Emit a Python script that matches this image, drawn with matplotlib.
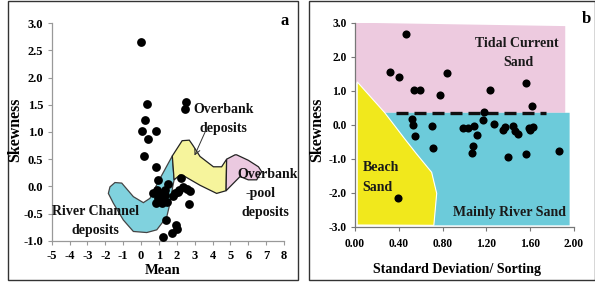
import matplotlib
matplotlib.use("Agg")
import matplotlib.pyplot as plt
from matplotlib.patches import Polygon, Rectangle

plt.rcParams['font.family'] = ['Liberation Serif', 'DejaVu Serif']
plt.rcParams['font.weight'] = 'bold'

# ---- Panel a data: Mean vs Skewness ----
mean_a = [0.00, 0.32, 0.22, 0.04, 0.86, 0.41, 0.18, 0.84, 2.50, 2.46, 0.97, 1.53, 2.24,
          0.69, 0.91, 1.16, 1.34, 0.97, 0.84, 1.16, 1.44, 1.34, 1.05, 1.25,
          1.90, 2.14, 2.36, 2.59, 2.74, 1.81, 2.68, 2.05,
          1.40, 1.96, 2.00, 1.71, 1.21]
skew_a = [2.66, 1.51, 1.22, 1.02, 1.02, 0.87, 0.55, 0.35, 1.56, 1.42, 0.12, 0.05, 0.16,
          -0.13, -0.07, -0.12, -0.16, -0.22, -0.30, -0.31, -0.28, -0.07, -0.15, -0.20,
          -0.13, -0.07, -0.02, -0.05, -0.08, -0.17, -0.32, -0.10,
          -0.62, -0.71, -0.79, -0.85, -0.93]

# Field outlines (panel a)
river_x = [-1.74, -1.46, -1.08, -0.43, 0.13, 0.50, 0.97, 1.75, 1.85, 1.77, 1.62, 1.44, 0.88, 0.32, -0.43, -0.99, -1.55, -1.83]
river_y = [-0.01, 0.07, 0.06, -0.19, -0.30, -0.22, 0.09, 0.56, 0.12, -0.01, -0.31, -0.56, -0.80, -0.85, -0.83, -0.62, -0.31, -0.13]
overbank_x = [1.75, 2.30, 2.70, 2.89, 3.30, 4.05, 4.51, 4.79, 4.76, 4.23, 3.30, 2.46, 2.18, 1.85]
overbank_y = [0.56, 0.84, 0.85, 0.76, 0.55, 0.36, 0.36, 0.50, -0.08, -0.13, 0.02, 0.18, 0.21, 0.12]
pool_x = [4.79, 5.26, 5.35, 6.00, 6.57, 6.75, 6.47, 6.00, 5.54, 4.76]
pool_y = [0.50, 0.58, 0.58, 0.48, 0.36, 0.27, 0.12, 0.12, 0.18, -0.08]

xticks_a = [-5, -4, -3, -2, -1, 0, 1, 2, 3, 4, 5, 6, 7, 8]
yticks_a = [-1.0, -0.5, 0.0, 0.5, 1.0, 1.5, 2.0, 2.5, 3.0]

# ---- Panel b data: Sorting vs Skewness ----
sort_b = [0.466, 0.32, 0.40, 0.54, 0.59, 0.78, 0.84, 1.23, 1.56, 1.62, 1.18, 1.17, 1.27,
          0.52, 0.53, 0.55, 0.70, 0.71, 0.99, 1.03, 1.09, 1.11, 1.08, 1.07,
          1.35, 1.37, 1.44, 1.46, 1.49, 1.40, 1.56, 1.59, 1.63, 1.60, 1.86, 0.39]
skew_b = [2.66, 1.56, 1.41, 1.02, 1.02, 0.87, 1.51, 1.02, 1.24, 0.55, 0.37, 0.14, 0.03,
          0.16, -0.01, -0.33, -0.04, -0.69, -0.11, -0.11, -0.04, -0.31, -0.63, -0.82,
          -0.16, -0.08, -0.04, -0.18, -0.27, -0.94, -0.86, -0.11, -0.08, -0.16, -0.76, -2.15]

tidal_x = [0.006, 1.92, 1.92, 0.27, 0.006]
tidal_y = [3.0, 2.90, 0.35, 0.35, 1.26]
beach_x = [0.02, 0.27, 0.45, 0.56, 0.70, 0.746, 0.72, 0.02]
beach_y = [1.26, 0.36, -0.40, -0.85, -1.40, -2.02, -2.96, -2.95]
river_b_x = [0.27, 1.96, 1.96, 0.72, 0.746, 0.70, 0.56, 0.45]
river_b_y = [0.35, 0.35, -2.96, -2.96, -2.02, -1.40, -0.85, -0.40]
dash_x = [0.37, 1.74]
dash_y = [0.35, 0.35]

xticks_b = [0.0, 0.4, 0.8, 1.2, 1.6, 2.0]
yticks_b = [-3, -2, -1, 0, 1, 2, 3]

W, H = 595, 283
fig = plt.figure(figsize=(W / 100, H / 100), dpi=100)

# Panel frames
fig.add_artist(Rectangle((8 / W, (H - 279.5) / H), (298.3 - 8) / W, 279.5 / H - 0.002,
                         transform=fig.transFigure, fill=False, ec='#333333', lw=1.0))
fig.add_artist(Rectangle((308.5 / W, (H - 279.5) / H), (594.5 - 308.5) / W, 279.5 / H - 0.002,
                         transform=fig.transFigure, fill=False, ec='#333333', lw=1.0))

# ---------- Panel a ----------
axa = fig.add_axes([51.7 / W, (H - 240.7) / H, (284 - 51.7) / W, (240.7 - 23.3) / H])
axa.set_xlim(-5, 8)
axa.set_ylim(-1.0, 3.0)
for s in ['top', 'right']:
    axa.spines[s].set_visible(False)
for s in ['left', 'bottom']:
    axa.spines[s].set_color('#999999')
    axa.spines[s].set_linewidth(0.9)
axa.tick_params(axis='both', colors='#999999', labelcolor='black', length=3, width=0.8,
                labelsize=9)
axa.tick_params(axis='x', pad=4)
axa.tick_params(axis='y', pad=3)
axa.set_xticks(xticks_a)
axa.set_xticklabels([f"{v:d}" for v in xticks_a])
axa.set_yticks(yticks_a)
axa.set_yticklabels([f"{v:.1f}" for v in yticks_a])
for lab in axa.get_xticklabels() + axa.get_yticklabels():
    lab.set_fontweight('bold')

axa.add_patch(Polygon(list(zip(river_x, river_y)), closed=True, fc='#80d2de', ec='#444444', lw=0.9, zorder=1))
axa.add_patch(Polygon(list(zip(overbank_x, overbank_y)), closed=True, fc='#f6f49c', ec='#222222', lw=0.9, zorder=1))
axa.add_patch(Polygon(list(zip(pool_x, pool_y)), closed=True, fc='#ebc9e0', ec='#222222', lw=0.9, zorder=1))
axa.scatter(mean_a, skew_a, s=40, color='black', zorder=3, linewidths=0)

axa.annotate('', xy=(2.93, 0.52), xytext=(3.68, 1.07),
             arrowprops=dict(arrowstyle='->', color='#333333', lw=0.7), zorder=4)
tk = dict(fontsize=10, fontweight='bold', color='#111111', clip_on=False)
axa.text(2.91, 1.42, 'Overbank', ha='left', va='center', **tk)
axa.text(4.6, 1.07, 'deposits', ha='center', va='center', **tk)
axa.text(5.37, 0.21, 'Overbank', ha='left', va='center', **tk)
axa.text(6.66, -0.14, '-pool', ha='center', va='center', **tk)
axa.text(6.94, -0.49, 'deposits', ha='center', va='center', **tk)
axa.text(-2.57, -0.47, 'River Channel', ha='center', va='center', **tk)
axa.text(-2.57, -0.82, 'deposits', ha='center', va='center', **tk)

fig.text(15 / W, 1 - 130 / H, 'Skewness', rotation=90, ha='center', va='center',
         fontsize=11.5, fontweight='bold')
fig.text(163 / W, 1 - 271 / H, 'Mean', ha='center', va='center', fontsize=10.5, fontweight='bold')
fig.text(285 / W, 1 - 21 / H, 'a', ha='center', va='center', fontsize=12, fontweight='bold')

# ---------- Panel b ----------
axb = fig.add_axes([355 / W, (H - 226.7) / H, 219 / W, 204 / H])
axb.set_xlim(0, 2.0)
axb.set_ylim(-3.0, 3.0)
for s in ['top', 'right']:
    axb.spines[s].set_visible(False)
for s in ['left', 'bottom']:
    axb.spines[s].set_color('#777777')
    axb.spines[s].set_linewidth(0.9)
axb.tick_params(axis='both', colors='#777777', labelcolor='black', length=3, width=0.8,
                labelsize=8.3)
axb.tick_params(axis='x', pad=5)
axb.tick_params(axis='y', pad=3)
axb.set_xticks(xticks_b)
axb.set_xticklabels([f"{v:.2f}" for v in xticks_b])
axb.set_yticks(yticks_b)
axb.set_yticklabels([f"{v:.1f}" for v in yticks_b])
for lab in axb.get_xticklabels() + axb.get_yticklabels():
    lab.set_fontweight('bold')

axb.add_patch(Polygon(list(zip(tidal_x, tidal_y)), closed=True, fc='#edcadf', ec='none', zorder=1))
axb.add_patch(Polygon(list(zip(river_b_x, river_b_y)), closed=True, fc='#6ccbda', ec='none', zorder=1))
axb.add_patch(Polygon(list(zip(beach_x, beach_y)), closed=True, fc='#f1e81c', ec='white', lw=0.8, zorder=1))
axb.plot(dash_x, dash_y, color='#111111', lw=2.4, ls=(0, (3.6, 1.8)), zorder=2)
axb.scatter(sort_b, skew_b, s=34, color='black', zorder=3, linewidths=0)

tb = dict(fontsize=10, fontweight='bold', color='#1a1a1a', clip_on=False)
axb.text(1.48, 2.40, 'Tidal Current', ha='center', va='center', **tb)
axb.text(1.49, 1.84, 'Sand', ha='center', va='center', **tb)
axb.text(0.07, -1.27, 'Beach', ha='left', va='center', **tb)
axb.text(0.07, -1.86, 'Sand', ha='left', va='center', **tb)
axb.text(1.415, -2.57, 'Mainly River Sand', ha='center', va='center', **tb)

fig.text(316.7 / W, 1 - 130 / H, 'Skewness', rotation=90, ha='center', va='center',
         fontsize=11.5, fontweight='bold')
fig.text(456.7 / W, 1 - 269 / H, 'Standard Deviation/ Sorting', ha='center', va='center',
         fontsize=10, fontweight='bold')
fig.text(586 / W, 1 - 19 / H, 'b', ha='center', va='center', fontsize=12, fontweight='bold')

fig.savefig('out.png', dpi=100)
